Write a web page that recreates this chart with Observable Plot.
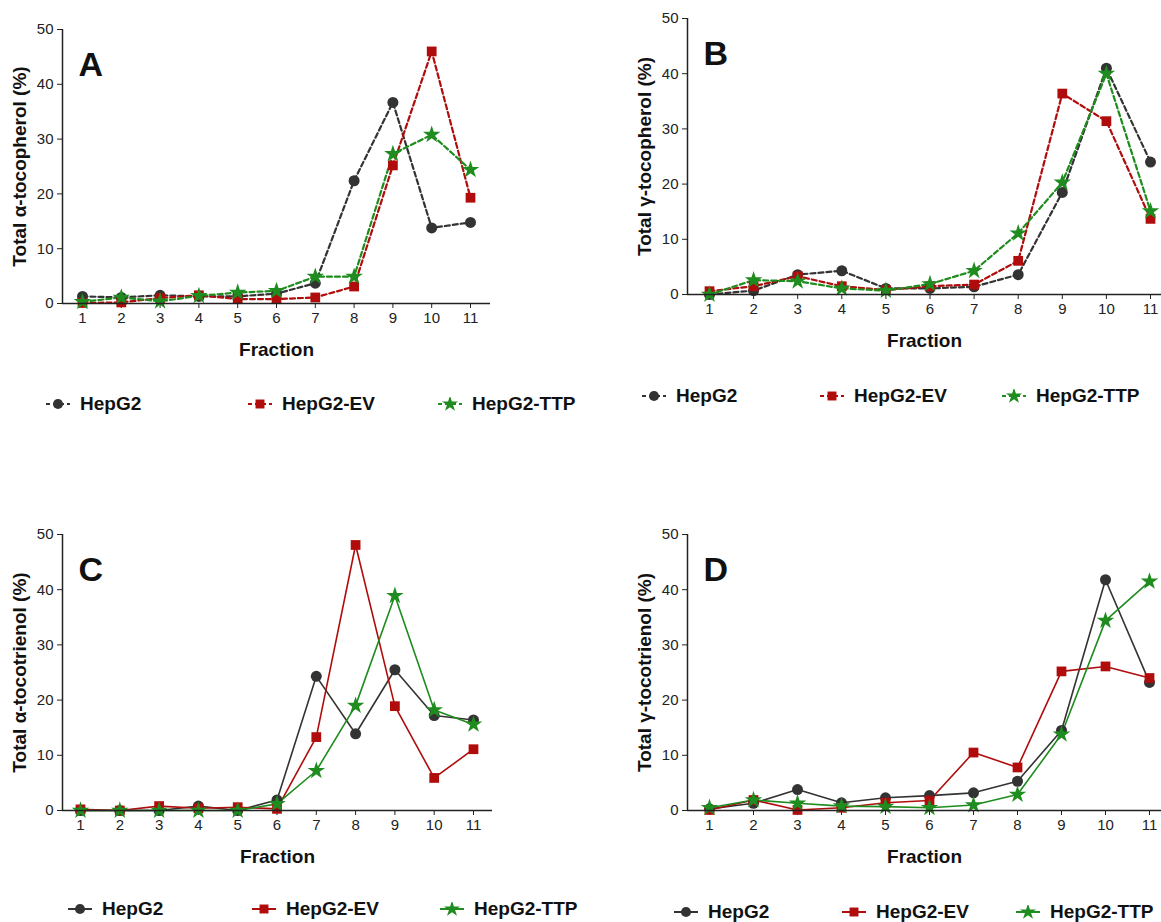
<!DOCTYPE html>
<html><head><meta charset="utf-8">
<script src="https://cdn.jsdelivr.net/npm/d3@7"></script>
<script src="https://cdn.jsdelivr.net/npm/@observablehq/plot@0.6"></script>
<style>
body{margin:0;background:#fff;font-family:"Liberation Sans",Arial,sans-serif;}
#root{position:relative;width:1161px;height:922px;overflow:hidden;}
.p{position:absolute;}
.leg{position:absolute;font-weight:bold;font-size:19px;color:#111;display:flex;align-items:center;gap:8px;white-space:nowrap;}
</style></head><body><div id="root"></div>
<script>
const fractions = [1,2,3,4,5,6,7,8,9,10,11];
const seriesNames = ["HepG2","HepG2-EV","HepG2-TTP"];
const A_HepG2 = [1.3,1.1,1.5,1.3,1.3,1.8,3.7,22.4,36.7,13.8,14.8];
const A_EV    = [0.1,0.2,1.0,1.5,0.8,0.8,1.1,3.1,25.2,46,19.3];
const A_TTP   = [0.3,1.1,0.4,1.4,2.0,2.3,4.9,4.9,27.3,30.8,24.4];
const B_HepG2 = [0,0.7,3.6,4.3,1.1,1.1,1.4,3.6,18.5,41,24];
const B_EV    = [0.6,1.5,3.3,1.5,0.8,1.5,1.8,6.1,36.4,31.4,13.7];
const B_TTP   = [0,2.6,2.4,1.1,0.7,1.9,4.3,11.1,20.3,40,15.1];
const C_HepG2 = [0,0,0,0.8,0,1.9,24.3,13.9,25.5,17.2,16.4];
const C_EV    = [0.2,0,0.8,0.4,0.6,0.3,13.3,48.1,18.9,5.9,11.1];
const C_TTP   = [0,0,0,0,0,1.2,7.2,19,38.9,18.2,15.6];
const D_HepG2 = [0.3,1.3,3.8,1.4,2.3,2.7,3.2,5.3,14.5,41.8,23.2];
const D_EV    = [0.1,1.9,0.1,0.5,1.4,1.8,10.5,7.8,25.2,26.1,24];
const D_TTP   = [0.5,1.9,1.3,0.8,0.7,0.5,1.0,2.9,13.8,34.4,41.5];
const yTicks = [0,10,20,30,40,50];
const colors = ["#333333","#b00c0c","#1e8c1e"];
const symbols = ["circle","square","star"];

const root = document.getElementById("root");

function panel(cfg){
  const {left, top, axisX, x1, x11, y0, y50, xEnd, letter, ylabel, dashed, vals} = cfg;
  const ppu = (x11 - x1)/10;
  const xmin = 1 - (x1 - axisX)/ppu, xmax = 11 + (xEnd - x11)/ppu;
  const width = xEnd - left + 2;
  const marginLeft = axisX - left, marginTop = y50 - top, height = y0 - top + 60;
  const data = [];
  vals.forEach((arr,si)=>arr.forEach((v,i)=>data.push({f:fractions[i], v, s:seriesNames[si]})));
  const marks = [];
  seriesNames.forEach((s,si)=>{
    const d = data.filter(o=>o.s===s);
    marks.push(Plot.line(d,{x:"f",y:"v",stroke:colors[si],strokeWidth:dashed?2.2:1.6,strokeDasharray:dashed?"5,3":null}));
  });
  seriesNames.forEach((s,si)=>{
    const d = data.filter(o=>o.s===s);
    marks.push(Plot.dot(d,{x:"f",y:"v",fill:colors[si],symbol:()=>symbols[si],r:5.5}));
  });
  marks.push(Plot.ruleX([xmin],{stroke:"#222",strokeWidth:1.5}));
  marks.push(Plot.ruleY([0],{stroke:"#222",strokeWidth:1.5}));
  marks.push(Plot.text([letter],{frameAnchor:"top-left",dx:16,dy:22,fontSize:34,fontWeight:"bold",fill:"#111"}));
  const svg = Plot.plot({
    width, height, marginLeft, marginTop, marginRight: 2, marginBottom: 60,
    style:{fontFamily:"Liberation Sans, Arial, sans-serif", fontSize:"15px", color:"#222", overflow:"visible"},
    x:{domain:[xmin,xmax], ticks:fractions, tickFormat:d=>d, tickSize:5, label:"Fraction", labelAnchor:"center", labelArrow:"none", labelOffset:52},
    y:{domain:[0,50], ticks:yTicks, tickSize:5, label:ylabel, labelAnchor:"center", labelArrow:"none", labelOffset:50},
    marks
  });
  svg.classList.add("p");
  svg.style.left = left+"px"; svg.style.top = top+"px";
  svg.querySelectorAll("[aria-label='x-axis label'] text, [aria-label='y-axis label'] text").forEach(t=>{t.setAttribute("font-weight","bold");t.setAttribute("font-size","19");t.setAttribute("fill","#111");});
  root.appendChild(svg);
}

function legend(items, y, dashed){
  items.forEach(([x,si])=>{
    const div = document.createElement("div");
    div.className="leg"; div.style.left=x+"px"; div.style.top=(y-12)+"px";
    const s = d3.create("svg").attr("width",28).attr("height",14);
    s.append("line").attr("x1",2).attr("x2",26).attr("y1",7).attr("y2",7).attr("stroke",colors[si]).attr("stroke-width",2).attr("stroke-dasharray",dashed?"4,3":null);
    s.append("path").attr("transform","translate(14,7)").attr("fill",colors[si]).attr("d",d3.symbol(si===0?d3.symbolCircle:si===1?d3.symbolSquare:d3.symbolStar, 80)());
    div.appendChild(s.node());
    const t=document.createElement("span"); t.textContent=seriesNames[si]; div.appendChild(t);
    root.appendChild(div);
  });
}

panel({left:0,top:0,axisX:62,x1:82,x11:470,y0:303,y50:29,xEnd:490,letter:"A",ylabel:"Total α-tocopherol (%)",dashed:true,vals:[A_HepG2,A_EV,A_TTP]});
panel({left:600,top:0,axisX:687,x1:709,x11:1150,y0:294,y50:18,xEnd:1161,letter:"B",ylabel:"Total γ-tocopherol (%)",dashed:true,vals:[B_HepG2,B_EV,B_TTP]});
panel({left:0,top:500,axisX:62,x1:80,x11:473,y0:810,y50:534,xEnd:492,letter:"C",ylabel:"Total α-tocotrienol (%)",dashed:false,vals:[C_HepG2,C_EV,C_TTP]});
panel({left:600,top:500,axisX:687,x1:709,x11:1149,y0:810,y50:534,xEnd:1161,letter:"D",ylabel:"Total γ-tocotrienol (%)",dashed:false,vals:[D_HepG2,D_EV,D_TTP]});

legend([[44,0],[246,1],[436,2]],405,true);
legend([[640,0],[818,1],[1000,2]],397,true);
legend([[66,0],[250,1],[438,2]],910,false);
legend([[672,0],[840,1],[1014,2]],913,false);
</script></body></html>
